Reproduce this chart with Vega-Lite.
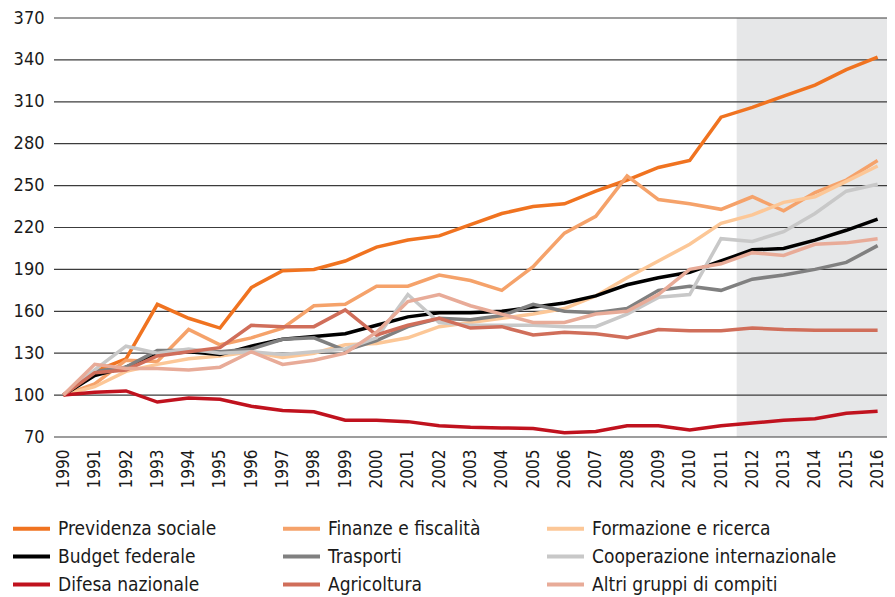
{
  "$schema": "https://vega.github.io/schema/vega-lite/v6.json",
  "width": 833,
  "height": 419,
  "autosize": {"type": "none"},
  "padding": {"left": 54, "top": 18, "right": 8, "bottom": 160},
  "background": "white",
  "config": {
    "view": {"stroke": null},
    "font": "DejaVu Sans Condensed",
    "axis": {"labelFont": "DejaVu Sans Condensed", "labelColor": "#1a1a1a"},
    "legend": {"labelFont": "DejaVu Sans Condensed", "labelColor": "#1a1a1a"}
  },
  "datasets": {
    "grid": [{"g": 70}, {"g": 100}, {"g": 130}, {"g": 160}, {"g": 190}, {"g": 220}, {"g": 250}, {"g": 280}, {"g": 310}, {"g": 340}, {"g": 370}],
    "series": [
      {"s": "Previdenza sociale", "v": [100,117,126,165,155,148,177,189,190,196,206,211,214,222,230,235,237,246,254,263,268,299,306,314,322,333,342]},
      {"s": "Finanze e fiscalità", "v": [100,108,125,124,147,136,141,148,164,165,178,178,186,182,175,192,216,228,257,240,237,233,242,232,245,254,268]},
      {"s": "Formazione e ricerca", "v": [100,106,117,122,126,128,131,127,130,136,137,141,149,152,155,158,162,171,184,196,208,223,229,238,242,253,264]},
      {"s": "Budget federale", "v": [100,114,120,129,131,129,135,140,142,144,150,156,159,159,160,163,166,171,179,184,188,196,204,205,211,218,226]},
      {"s": "Trasporti", "v": [100,117,120,132,132,131,133,140,141,132,139,149,155,154,157,165,160,159,162,175,178,175,183,186,190,195,207]},
      {"s": "Cooperazione internazionale", "v": [100,118,135,130,133,130,131,129,131,133,141,172,152,150,150,150,149,149,158,170,172,212,210,217,230,246,251]},
      {"s": "Difesa nazionale", "v": [100,102,103,95,98,97,92,89,88,82,82,81,78,77,76.5,76,73,74,78,78,75,78,80,82,83,87,88.5]},
      {"s": "Agricoltura", "v": [100,116,118,128,131,134,150,149,149,161,143,150,155,148,149,143,145,144,141,147,146,146,148,147,146.5,146.5,146.5]},
      {"s": "Altri gruppi di compiti", "v": [100,122,119,119,118,120,131,122,125,130,145,167,172,164,158,152,152,158,160,172,190,194,202,200,208,209,212]}
    ]
  },
  "encoding": {
    "x": {
      "type": "quantitative",
      "scale": {"domain": [1989.7, 2016.3], "nice": false, "zero": false},
      "axis": {
        "title": null, "values": [1990,1991,1992,1993,1994,1995,1996,1997,1998,1999,2000,2001,2002,2003,2004,2005,2006,2007,2008,2009,2010,2011,2012,2013,2014,2015,2016],
        "format": "d", "labelAngle": -90, "labelFontSize": 17, "labelPadding": 12,
        "ticks": false, "domain": false, "grid": false, "labelOverlap": false, "labelFlush": false
      }
    }
  },
  "layer": [
    {
      "data": {"values": [{"a": 1}]},
      "mark": {"type": "rect", "color": "#e6e7e8"},
      "encoding": {
        "x": {"datum": 2011.5, "type": "quantitative"},
        "x2": {"datum": 2016.3}
      }
    },
    {
      "data": {"name": "grid"},
      "mark": {"type": "rule", "color": "#3c3c3c", "strokeWidth": 1.2},
      "encoding": {
        "y": {
          "field": "g", "type": "quantitative",
          "scale": {"domain": [70, 370], "nice": false, "zero": false},
          "axis": {
            "title": null, "values": [70,100,130,160,190,220,250,280,310,340,370],
            "labelFontSize": 18, "labelPadding": 10, "ticks": false, "domain": false, "grid": false
          }
        }
      }
    },
    {
      "data": {"name": "series"},
      "transform": [
        {"flatten": ["v"]},
        {"window": [{"op": "row_number", "as": "idx"}], "groupby": ["s"]},
        {"calculate": "1989 + datum.idx", "as": "year"}
      ],
      "mark": {"type": "line", "strokeWidth": 3.5, "strokeJoin": "miter"},
      "encoding": {
        "x": {"field": "year", "type": "quantitative"},
        "y": {
          "field": "v", "type": "quantitative",
          "scale": {"domain": [70, 370], "nice": false, "zero": false},
          "axis": {
            "title": null, "values": [70,100,130,160,190,220,250,280,310,340,370],
            "labelFontSize": 18, "labelPadding": 10, "ticks": false, "domain": false, "grid": false
          }
        },
        "color": {
          "field": "s", "type": "nominal",
          "scale": {
            "domain": ["Previdenza sociale", "Finanze e fiscalità", "Formazione e ricerca", "Budget federale", "Trasporti", "Cooperazione internazionale", "Difesa nazionale", "Agricoltura", "Altri gruppi di compiti"],
            "range": ["#f07320", "#f5a26a", "#fcc797", "#000000", "#808080", "#c8c8c8", "#c0121e", "#d06e5a", "#e8ab98"]
          },
          "legend": {
            "title": null, "orient": "none", "legendX": -37, "legendY": 496, "direction": "horizontal",
            "columns": 3, "symbolType": "M-1.48,0L1.48,0", "symbolSize": 625, "symbolStrokeWidth": 4,
            "labelFontSize": 19, "labelOffset": 12, "labelLimit": 400, "columnPadding": 58, "rowPadding": 3, "padding": 0
          }
        }
      }
    }
  ]
}
